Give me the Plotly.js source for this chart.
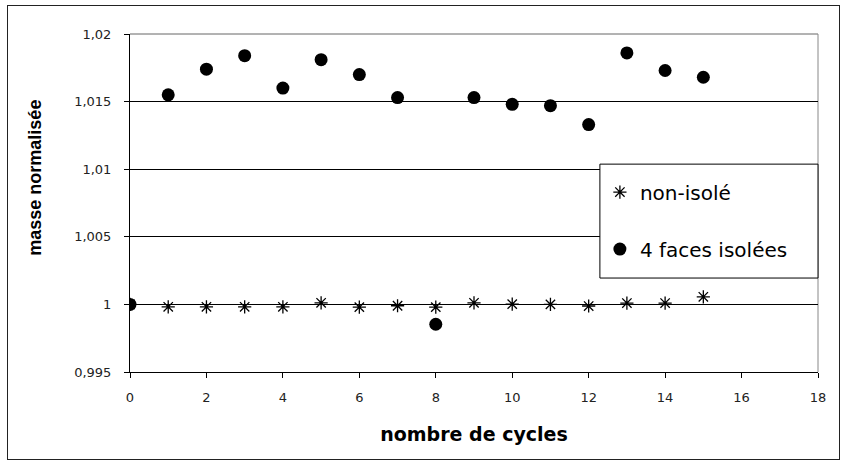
<!DOCTYPE html>
<html>
<head>
<meta charset="utf-8">
<script src="https://cdn.plot.ly/plotly-3.0.1.min.js"></script>
<style>
  html, body { margin: 0; padding: 0; background: #fff; }
  #wrap { position: relative; width: 841px; height: 466px; }
  #chart { width: 841px; height: 466px; }
  #frame { position: absolute; left: 7px; top: 5px; width: 833px; height: 455px;
           border: 1px solid #222; box-sizing: border-box; pointer-events: none; }
</style>
</head>
<body>
<div id="wrap"><div id="chart"></div><div id="frame"></div></div>
<script>
// ---- data ----
const cycles = [0, 1, 2, 3, 4, 5, 6, 7, 8, 9, 10, 11, 12, 13, 14, 15];
const nonIsole = [1.0, 0.99982, 0.99982, 0.99982, 0.99982, 1.00012, 0.9998, 0.9999, 0.9998, 1.00012, 1.00002, 1.0, 0.99988, 1.0001, 1.0001, 1.00056];
const quatreFaces = [1.0, 1.0155, 1.0174, 1.0184, 1.0160, 1.0181, 1.0170, 1.0153, 0.99853, 1.0153, 1.0148, 1.0147, 1.0133, 1.0186, 1.0173, 1.0168];
const seriesNames = ["non-isolé", "4 faces isolées"];
const yTickVals = [0.995, 1.0, 1.005, 1.01, 1.015, 1.02];
const yTickText = ["0,995", "1", "1,005", "1,01", "1,015", "1,02"];
const xTickVals = [0, 2, 4, 6, 8, 10, 12, 14, 16, 18];
const xTitle = "nombre de cycles";
const yTitle = "masse normalisée";

const traces = [
  {
    x: cycles, y: nonIsole, name: seriesNames[0], type: "scatter", mode: "markers",
    legendgroup: "a",
    marker: { symbol: "asterisk-open", size: 11, color: "#000", line: { color: "#000", width: 1.3 } }
  },
  {
    x: cycles, y: quatreFaces, name: seriesNames[1], type: "scatter", mode: "markers",
    legendgroup: "b",
    marker: { symbol: "circle", size: 13, color: "#000", line: { width: 0 } }
  }
];

const tickFont = { family: "DejaVu Sans, Arial, sans-serif", size: 13, color: "#222" };

const layout = {
  width: 841, height: 466,
  margin: { l: 130, r: 23, t: 34, b: 94 },
  paper_bgcolor: "#fff", plot_bgcolor: "#fff",
  showlegend: true,
  xaxis: {
    range: [0, 18], tickvals: xTickVals, ticktext: xTickVals.map(String),
    ticks: "outside", ticklen: 5, tickcolor: "#000", tickwidth: 1,
    showline: true, linecolor: "#000", linewidth: 1, showgrid: false, zeroline: false,
    tickfont: tickFont, ticklabelstandoff: 8,
    title: { text: xTitle, font: { family: "DejaVu Sans, Arial, sans-serif", size: 19, color: "#000", weight: "bold" }, standoff: 24 }
  },
  yaxis: {
    range: [0.995, 1.02], tickvals: yTickVals, ticktext: yTickText,
    ticks: "outside", ticklen: 5, tickcolor: "#000", tickwidth: 1,
    showline: true, linecolor: "#000", linewidth: 1,
    showgrid: true, gridcolor: "#000", gridwidth: 1, zeroline: false,
    tickfont: tickFont, ticklabelstandoff: 10
  },
  annotations: [
    { text: yTitle, xref: "paper", yref: "paper", x: -0.138, y: 0.575, xanchor: "center", yanchor: "middle",
      textangle: -90, showarrow: false,
      font: { family: "Liberation Sans, Arial, sans-serif", size: 18, color: "#000", weight: "bold" } }
  ],
  shapes: [
    { type: "line", xref: "paper", yref: "paper", x0: 0, x1: 1, y0: 1, y1: 1, line: { color: "#666", width: 1 }, layer: "below" },
    { type: "line", xref: "paper", yref: "paper", x0: 1, x1: 1, y0: 0, y1: 1, line: { color: "#888", width: 1 }, layer: "below" },
    { type: "rect", xref: "paper", yref: "paper", x0: 0.683, x1: 1.0, y0: 0.278, y1: 0.615,
      fillcolor: "#fff", line: { color: "#000", width: 1 }, layer: "above" }
  ],
  legend: {
    x: 0.683, y: 0.59, xanchor: "left", yanchor: "top",
    bgcolor: "rgba(0,0,0,0)", borderwidth: 0,
    traceorder: "grouped", tracegroupgap: 28,
    font: { family: "DejaVu Sans, Arial, sans-serif", size: 20, color: "#000" }
  }
};

Plotly.newPlot("chart", traces, layout, { staticPlot: true, displayModeBar: false });
</script>
</body>
</html>
